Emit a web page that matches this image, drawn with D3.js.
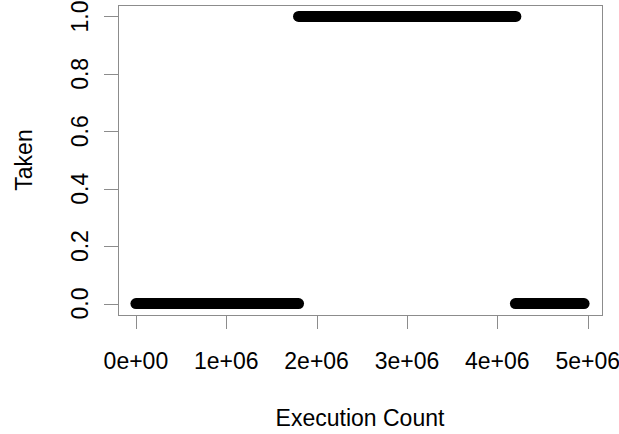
<!DOCTYPE html>
<html>
<head>
<meta charset="utf-8">
<script src="https://cdn.jsdelivr.net/npm/d3@7"></script>
<style>
  body { margin: 0; background: #fff; }
  text { font-family: "Liberation Sans", Arial, sans-serif; fill: #000; }
</style>
</head>
<body>
<svg id="chart" width="619" height="434"></svg>
<script>
// runs of the "Taken" outcome along the execution count
var runStart = [0, 1.80e6, 4.20e6],
    runEnd   = [1.80e6, 4.205e6, 4.96e6],
    runValue = [0, 1, 0];

var xTicks = [0, 1e6, 2e6, 3e6, 4e6, 5e6],
    xTickLabels = ["0e+00", "1e+06", "2e+06", "3e+06", "4e+06", "5e+06"],
    yTicks = [0, 0.2, 0.4, 0.6, 0.8, 1.0],
    yTickLabels = ["0.0", "0.2", "0.4", "0.6", "0.8", "1.0"];

var box = { left: 118, right: 602, top: 5, bottom: 315 },
    fontSize = 23,
    grey = "#8c8c8c";

var svg = d3.select("#chart");

// R style 4% padding on both axes
var xmin = d3.min(runStart), xmax = d3.max(runEnd),
    xpad = (xmax - xmin) * 0.04;
var x = d3.scaleLinear()
    .domain([xmin - xpad, xmax + xpad])
    .range([box.left, box.right]);

var y = d3.scaleLinear()
    .domain([-0.04, 1.04])
    .range([box.bottom, box.top]);

// plot box
svg.append("rect")
    .attr("x", box.left + 0.5)
    .attr("y", box.top + 0.5)
    .attr("width", box.right - box.left)
    .attr("height", box.bottom - box.top)
    .attr("fill", "none")
    .attr("stroke", grey)
    .attr("stroke-width", 1);

// x axis
var xAxis = svg.append("g").attr("class", "x axis");
xAxis.append("line")
    .attr("x1", Math.round(x(xTicks[0])) + 0.5)
    .attr("x2", Math.round(x(xTicks[xTicks.length - 1])) + 0.5)
    .attr("y1", box.bottom + 0.5)
    .attr("y2", box.bottom + 0.5)
    .attr("stroke", grey);
xAxis.selectAll("line.tick")
    .data(xTicks)
    .enter().append("line")
    .attr("class", "tick")
    .attr("x1", function(d) { return Math.round(x(d)) + 0.5; })
    .attr("x2", function(d) { return Math.round(x(d)) + 0.5; })
    .attr("y1", box.bottom)
    .attr("y2", box.bottom + 14)
    .attr("stroke", grey);
xAxis.selectAll("text")
    .data(xTicks)
    .enter().append("text")
    .attr("x", function(d) { return x(d); })
    .attr("y", 369)
    .attr("text-anchor", "middle")
    .style("font-size", fontSize + "px")
    .text(function(d, i) { return xTickLabels[i]; });

// y axis
var yAxis = svg.append("g").attr("class", "y axis");
yAxis.append("line")
    .attr("x1", box.left + 0.5)
    .attr("x2", box.left + 0.5)
    .attr("y1", Math.round(y(yTicks[0])) + 0.5)
    .attr("y2", Math.round(y(yTicks[yTicks.length - 1])) + 0.5)
    .attr("stroke", grey);
yAxis.selectAll("line.tick")
    .data(yTicks)
    .enter().append("line")
    .attr("class", "tick")
    .attr("x1", box.left - 14)
    .attr("x2", box.left)
    .attr("y1", function(d) { return Math.round(y(d)) + 0.5; })
    .attr("y2", function(d) { return Math.round(y(d)) + 0.5; })
    .attr("stroke", grey);
yAxis.selectAll("text")
    .data(yTicks)
    .enter().append("text")
    .attr("transform", function(d) { return "translate(88," + y(d) + ") rotate(-90)"; })
    .attr("text-anchor", "middle")
    .style("font-size", fontSize + "px")
    .text(function(d, i) { return yTickLabels[i]; });

// axis titles
svg.append("text")
    .attr("x", (box.left + box.right) / 2)
    .attr("y", 426)
    .attr("text-anchor", "middle")
    .style("font-size", fontSize + "px")
    .text("Execution Count");

svg.append("text")
    .attr("transform", "translate(32," + ((box.top + box.bottom) / 2) + ") rotate(-90)")
    .attr("text-anchor", "middle")
    .style("font-size", fontSize + "px")
    .text("Taken");

// the dense points, drawn as runs of overlapping filled circles
svg.append("g").selectAll("line")
    .data(runValue)
    .enter().append("line")
    .attr("x1", function(d, i) { return x(runStart[i]); })
    .attr("x2", function(d, i) { return x(runEnd[i]); })
    .attr("y1", function(d) { return y(d); })
    .attr("y2", function(d) { return y(d); })
    .attr("stroke", "#000")
    .attr("stroke-width", 11)
    .attr("stroke-linecap", "round");
</script>
</body>
</html>
